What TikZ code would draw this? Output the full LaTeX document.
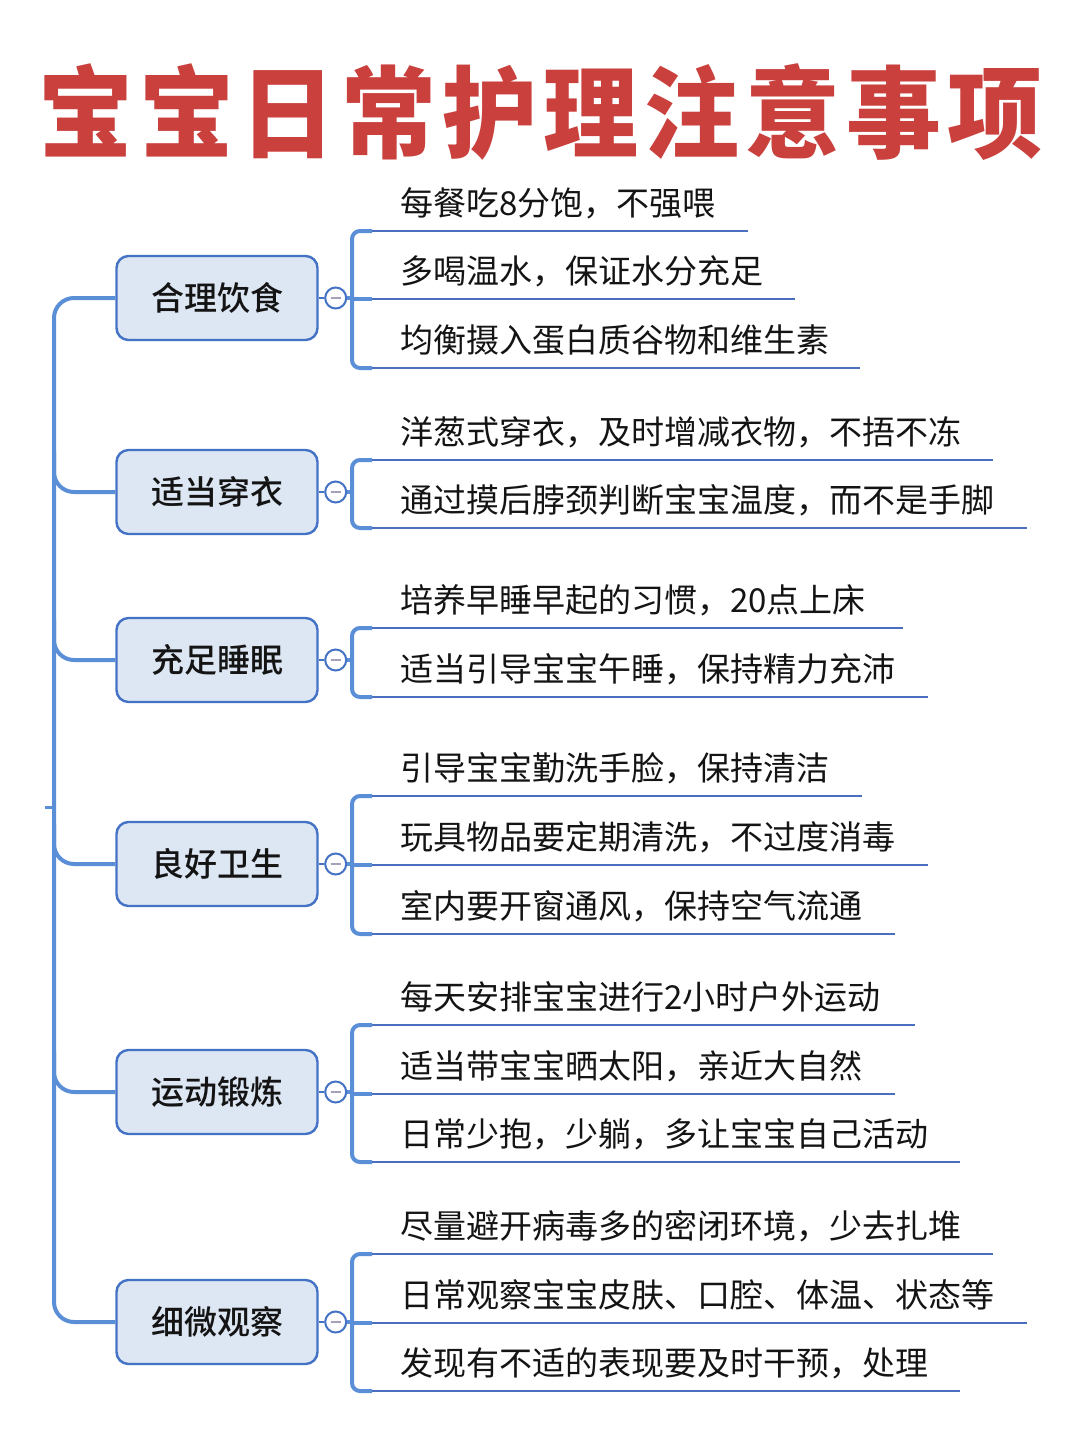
\documentclass[tikz,border=0pt]{standalone}
\usepackage{fontspec}
\setmainfont{Noto Sans CJK SC}
\newfontfamily\titlefont{Noto Sans CJK SC Black}[LetterSpace=6.3]
\newfontfamily\topicfont{Noto Sans CJK SC Medium}
\definecolor{titlered}{HTML}{C9403D}
\definecolor{spinec}{HTML}{5A8FD8}
\definecolor{boxline}{HTML}{4472C4}
\definecolor{boxfill}{HTML}{DDE6F3}
\definecolor{ulc}{HTML}{4A6FBF}
\definecolor{minusc}{HTML}{A8A0B8}
\definecolor{txt}{HTML}{141414}
\tikzset{
  spine/.style={spinec, line width=4pt, rounded corners=20pt},
  brk/.style={spinec, line width=4pt, rounded corners=8pt},
  uline/.style={ulc, line width=2.2pt},
  link/.style={boxline, line width=2pt},
  topic/.style={draw=boxline, fill=boxfill, line width=2.4pt, rounded corners=12pt,
    minimum width=201pt, minimum height=84pt, inner sep=0pt, text=txt,
    font=\topicfont\fontsize{33pt}{36pt}\selectfont},
  fold/.style={circle, draw=boxline, fill=white, line width=2pt, minimum size=21pt, inner sep=0pt,
    path picture={\draw[minusc, line width=1.6pt]
      ([xshift=-5pt]path picture bounding box.center) -- ([xshift=5pt]path picture bounding box.center);}},
  leaftext/.style={anchor=base west, inner sep=0pt, text=txt, font=\fontsize{33pt}{36pt}\selectfont},
}
\newcommand{\mmleaf}[4]{%
  \coordinate (#1s) at (372,#2);
  \coordinate (#1e) at (#3,#2);
  \node[leaftext] (#1t) at (400,#2-16) {#4};
  \draw[uline] (#1s) -- (#1e);
}
\begin{document}
\begin{tikzpicture}[x=1pt,y=-1pt]
\useasboundingbox (0,0) rectangle (1080,1440);
\fill[white] (0,0) rectangle (1080,1440);

\node[text=titlered, inner sep=0pt, anchor=west, xscale=0.95, font=\titlefont\fontsize{100pt}{108pt}\selectfont] (title) at (38.5,112) {宝宝日常护理注意事项};

\coordinate (sp) at (54,0);
\coordinate (bx) at (352,0);

% topics
\node[topic] (b1) at (217,298) {合理饮食};
\node[topic] (b2) at (217,492) {适当穿衣};
\node[topic] (b3) at (217,660) {充足睡眠};
\node[topic] (b4) at (217,864) {良好卫生};
\node[topic] (b5) at (217,1092) {运动锻炼};
\node[topic] (b6) at (217,1322) {细微观察};

% spine
\draw[spine] (b1.west) -| (b6.west -| sp) -- (b6.west);
\draw[spine] ([yshift=40pt]b2.west -| sp) |- (b2.west);
\draw[spine] ([yshift=40pt]b3.west -| sp) |- (b3.west);
\draw[spine] ([yshift=40pt]b4.west -| sp) |- (b4.west);
\draw[spine] ([yshift=40pt]b5.west -| sp) |- (b5.west);
\coordinate (tick) at (45,807);
\draw[spinec, line width=3pt] (tick) -- (tick -| sp);

% fold circles
\foreach \i in {1,...,6}{
  \node[fold] (c\i) at ([xshift=17pt]b\i.east) {};
  \draw[link] (b\i.east) -- (c\i.west);
  \draw[brk] (c\i.east) -- (c\i.east -| bx);
}

% group 1
\mmleaf{g1a}{231}{748}{每餐吃8分饱，不强喂}
\mmleaf{g1b}{299}{795}{多喝温水，保证水分充足}
\mmleaf{g1c}{368}{860}{均衡摄入蛋白质谷物和维生素}
\draw[brk] (g1as) -| (g1bs -| bx) |- (g1cs);
\draw[brk] (g1bs -| bx) -- (g1bs);

% group 2
\mmleaf{g2a}{460}{993}{洋葱式穿衣，及时增减衣物，不捂不冻}
\mmleaf{g2b}{528}{1027}{通过摸后脖颈判断宝宝温度，而不是手脚}
\draw[brk] (g2as) -| (c2.east -| bx) |- (g2bs);

% group 3
\mmleaf{g3a}{628}{903}{培养早睡早起的习惯，20点上床}
\mmleaf{g3b}{697}{928}{适当引导宝宝午睡，保持精力充沛}
\draw[brk] (g3as) -| (c3.east -| bx) |- (g3bs);

% group 4
\mmleaf{g4a}{796}{862}{引导宝宝勤洗手脸，保持清洁}
\mmleaf{g4b}{865}{928}{玩具物品要定期清洗，不过度消毒}
\mmleaf{g4c}{934}{895}{室内要开窗通风，保持空气流通}
\draw[brk] (g4as) -| (g4bs -| bx) |- (g4cs);
\draw[brk] (g4bs -| bx) -- (g4bs);

% group 5
\mmleaf{g5a}{1025}{915}{每天安排宝宝进行2小时户外运动}
\mmleaf{g5b}{1094}{895}{适当带宝宝晒太阳，亲近大自然}
\mmleaf{g5c}{1162}{960}{日常少抱，少躺，多让宝宝自己活动}
\draw[brk] (g5as) -| (g5bs -| bx) |- (g5cs);
\draw[brk] (g5bs -| bx) -- (g5bs);

% group 6
\mmleaf{g6a}{1254}{993}{尽量避开病毒多的密闭环境，少去扎堆}
\mmleaf{g6b}{1323}{1027}{日常观察宝宝皮肤、口腔、体温、状态等}
\mmleaf{g6c}{1391}{960}{发现有不适的表现要及时干预，处理}
\draw[brk] (g6as) -| (g6bs -| bx) |- (g6cs);
\draw[brk] (g6bs -| bx) -- (g6bs);
\end{tikzpicture}
\end{document}
